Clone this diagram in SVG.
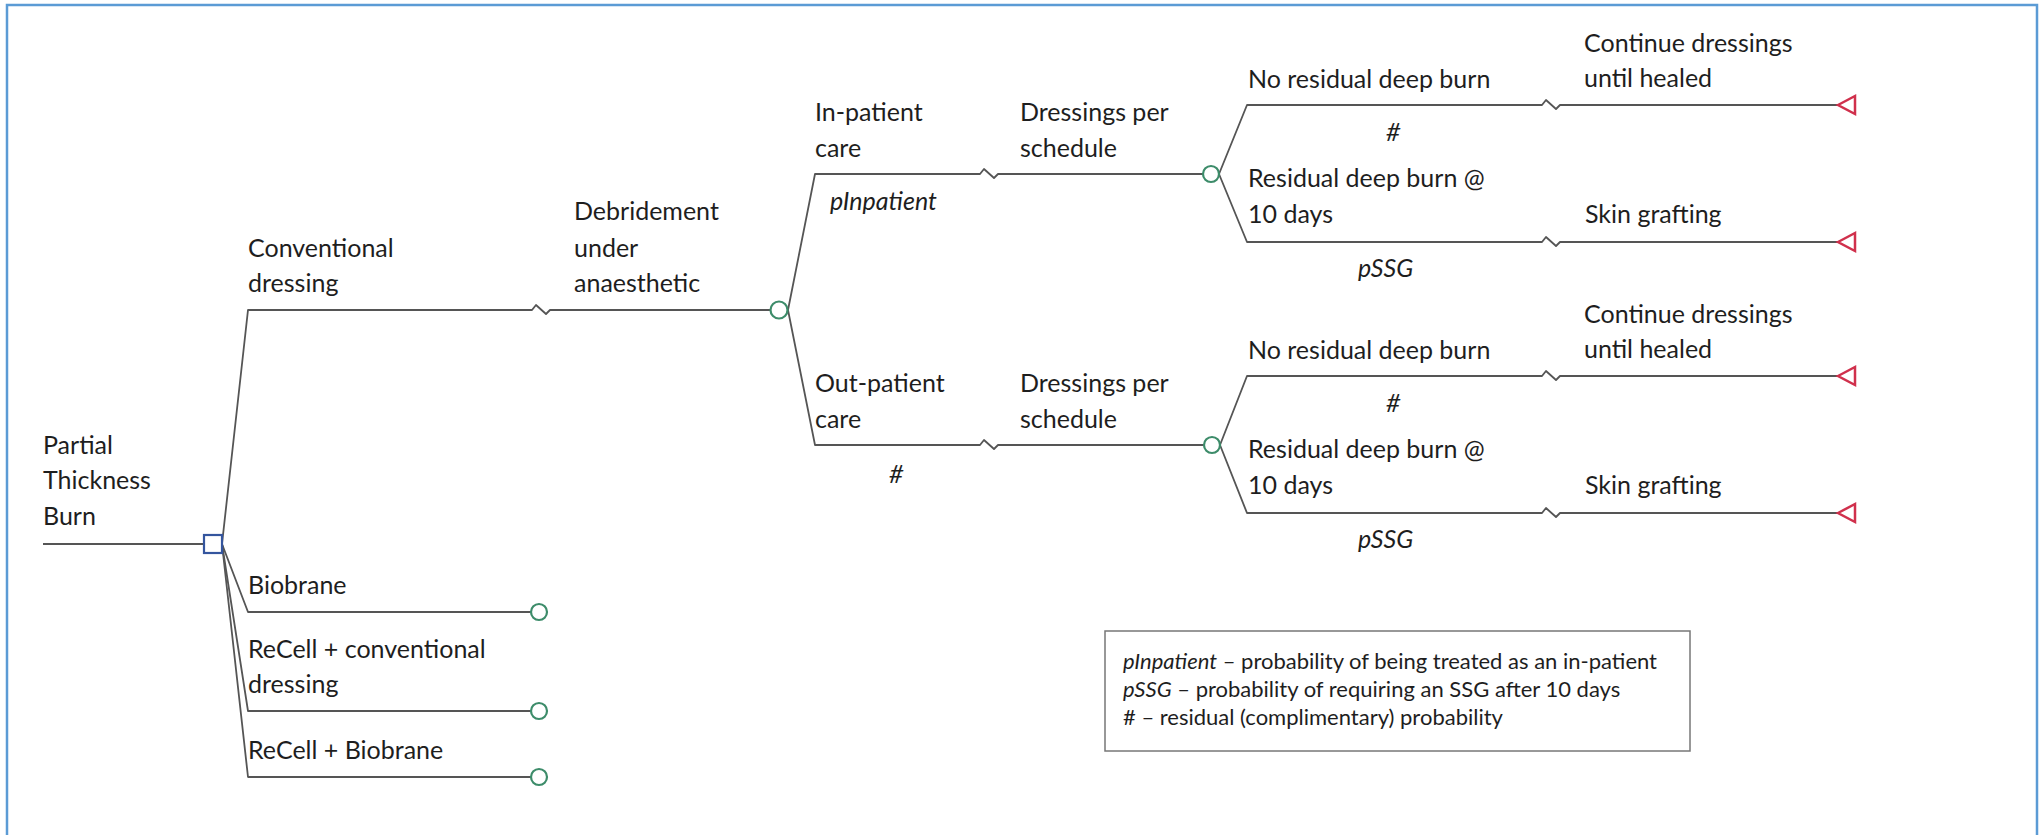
<svg xmlns="http://www.w3.org/2000/svg" width="2043" height="835" viewBox="0 0 2043 835">
<style>
text{font-family:Lato,"Liberation Sans",sans-serif;font-size:25px;fill:#1e1e1e}
.it{font-style:italic}
.leg{font-size:22px}
.ln{fill:none;stroke:#555;stroke-width:1.8;stroke-linejoin:round}
.chance{fill:#fff;stroke:#3d8c6a;stroke-width:2.2}
.dec{fill:#fff;stroke:#34559e;stroke-width:2.2}
.term{fill:#fff;stroke:#d0304c;stroke-width:2.5;stroke-linejoin:miter}
</style>
<rect x="7" y="5" width="2030" height="845" fill="#fff" stroke="#5b9bd5" stroke-width="2.5"/>
<g id="connectors">
<path class="ln" d="M43,544 H204"/>
<path class="ln" d="M222,544 L248,310 H532 l4,-5 l10,9 l4,-4 H770"/>
<path class="ln" d="M222,544 L248,612 H531"/>
<path class="ln" d="M222,544 L248,711 H531"/>
<path class="ln" d="M222,544 L248,777 H531"/>
<path class="ln" d="M788,310 L815,174 H980 l4,-5 l10,9 l4,-4 H1203"/>
<path class="ln" d="M788,310 L815,445 H980 l4,-5 l10,9 l4,-4 H1204"/>
<path class="ln" d="M1219,174 L1247,105 H1542 l4,-5 l10,9 l4,-4 H1838"/>
<path class="ln" d="M1219,174 L1247,242 H1542 l4,-5 l10,9 l4,-4 H1838"/>
<path class="ln" d="M1220,445 L1247,376 H1542 l4,-5 l10,9 l4,-4 H1838"/>
<path class="ln" d="M1220,445 L1247,513 H1542 l4,-5 l10,9 l4,-4 H1838"/>
</g>
<g id="root">
<rect class="dec" x="204" y="535" width="18" height="18"/>
<text x="43" y="454">Partial</text>
<text x="43" y="489">Thickness</text>
<text x="43" y="525">Burn</text>
</g>
<g id="chance-debridement"><circle class="chance" cx="779" cy="310" r="8.5"/></g>
<g id="chance-biobrane"><circle class="chance" cx="539" cy="612" r="8"/></g>
<g id="chance-recell-conv"><circle class="chance" cx="539" cy="711" r="8"/></g>
<g id="chance-recell-bio"><circle class="chance" cx="539" cy="777" r="8"/></g>
<g id="chance-inpatient"><circle class="chance" cx="1211" cy="174" r="8"/></g>
<g id="chance-outpatient"><circle class="chance" cx="1212" cy="445" r="8"/></g>
<g id="term-1"><path class="term" d="M1838,105 L1855,96 V114 Z"/></g>
<g id="term-2"><path class="term" d="M1838,242 L1855,233 V251 Z"/></g>
<g id="term-3"><path class="term" d="M1838,376 L1855,367 V385 Z"/></g>
<g id="term-4"><path class="term" d="M1838,513 L1855,504 V522 Z"/></g>
<g id="labels">
<text x="248" y="257">Conventional</text>
<text x="248" y="292">dressing</text>
<text x="574" y="220">Debridement</text>
<text x="574" y="257">under</text>
<text x="574" y="292">anaesthetic</text>
<text x="248" y="594">Biobrane</text>
<text x="248" y="658">ReCell + conventional</text>
<text x="248" y="693">dressing</text>
<text x="248" y="759">ReCell + Biobrane</text>
<text x="815" y="121">In-patient</text>
<text x="815" y="157">care</text>
<text class="it" x="830" y="210">pInpatient</text>
<text x="1020" y="121">Dressings per</text>
<text x="1020" y="157">schedule</text>
<text x="815" y="392">Out-patient</text>
<text x="815" y="428">care</text>
<text class="it" x="889" y="483">#</text>
<text x="1020" y="392">Dressings per</text>
<text x="1020" y="428">schedule</text>
<text x="1584" y="52">Continue dressings</text>
<text x="1584" y="87">until healed</text>
<text x="1248" y="88">No residual deep burn</text>
<text class="it" x="1386" y="141">#</text>
<text x="1248" y="187">Residual deep burn @</text>
<text x="1248" y="223">10 days</text>
<text x="1585" y="223">Skin grafting</text>
<text class="it" x="1358" y="277">pSSG</text>
<text x="1584" y="323">Continue dressings</text>
<text x="1584" y="358">until healed</text>
<text x="1248" y="359">No residual deep burn</text>
<text class="it" x="1386" y="412">#</text>
<text x="1248" y="458">Residual deep burn @</text>
<text x="1248" y="494">10 days</text>
<text x="1585" y="494">Skin grafting</text>
<text class="it" x="1358" y="548">pSSG</text>
</g>
<g id="legend">
<rect x="1105" y="631" width="585" height="120" fill="#fff" stroke="#777" stroke-width="1.5"/>
<text class="leg" x="1123" y="669"><tspan class="it">pInpatient</tspan> – probability of being treated as an in-patient</text>
<text class="leg" x="1123" y="697"><tspan class="it">pSSG</tspan> – probability of requiring an SSG after 10 days</text>
<text class="leg" x="1123" y="725"># – residual (complimentary) probability</text>
</g>
</svg>
